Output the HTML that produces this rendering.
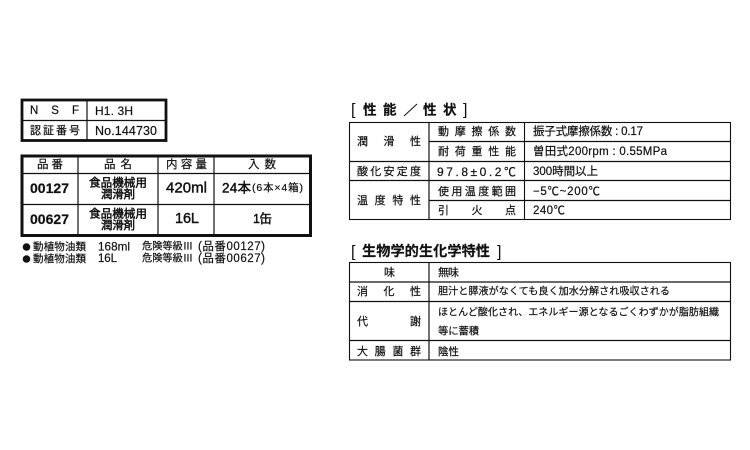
<!DOCTYPE html>
<html lang="ja">
<head>
<meta charset="utf-8">
<style>
html,body{margin:0;padding:0;background:#fff;}
svg{display:block;filter:blur(0.3px);}
text{font-family:"Liberation Sans","Noto Sans CJK JP",sans-serif;fill:#111;stroke:#111;stroke-width:0.2px;dominant-baseline:central;font-size:11px;}
.b{font-weight:bold;}
.c3{font-size:11.5px;}
.n{font-size:10.5px;}
.s{font-size:10.2px;}
.h{stroke-width:0.45px;}
line{stroke:#111;}
rect{fill:none;stroke:#111;}
</style>
</head>
<body>
<svg width="750" height="450" viewBox="0 0 750 450" xmlns="http://www.w3.org/2000/svg">
<!-- NSF table -->
<rect x="22" y="100" width="144" height="40.500" stroke-width="2.800"/>
<line x1="87" y1="100" x2="87" y2="140" stroke-width="1.200"/>
<line x1="22" y1="120.500" x2="166" y2="120.500" stroke-width="1.200"/>
<text x="30" y="111" textLength="49" lengthAdjust="spacing" style="font-size:11.500px">N S F</text>
<text x="95" y="111" textLength="38" lengthAdjust="spacing" style="font-size:12px">H1. 3H</text>
<text x="30" y="131" textLength="50" lengthAdjust="spacing">認証番号</text>
<text x="95" y="131" textLength="62" lengthAdjust="spacing" style="font-size:12.500px">No.144730</text>

<!-- product table -->
<rect x="22" y="156" width="288.500" height="79.500" stroke-width="3"/>
<line x1="22" y1="173.500" x2="310" y2="173.500" stroke-width="1.200"/>
<line x1="22" y1="204.500" x2="310" y2="204.500" stroke-width="1.200"/>
<line x1="78" y1="156" x2="78" y2="235" stroke-width="1.200"/>
<line x1="158" y1="156" x2="158" y2="235" stroke-width="1.200"/>
<line x1="214" y1="156" x2="214" y2="235" stroke-width="1.200"/>
<text x="37" y="165" textLength="26" lengthAdjust="spacing" style="font-size:11.500px">品番</text>
<text x="104" y="165" textLength="28" lengthAdjust="spacing" style="font-size:11.500px">品名</text>
<text x="166" y="165" textLength="41" lengthAdjust="spacing" style="font-size:11.500px">内容量</text>
<text x="248" y="165" textLength="28" lengthAdjust="spacing" style="font-size:11.500px">入数</text>
<text class="b" x="30" y="188" textLength="39" lengthAdjust="spacing" style="font-size:14px">00127</text>
<text class="h" x="89" y="183" textLength="58" lengthAdjust="spacing" style="font-size:11.600px">食品機械用</text>
<text class="h" x="101" y="195" textLength="34" lengthAdjust="spacing" style="font-size:11.500px">潤滑剤</text>
<text class="h" x="166" y="188" textLength="41" lengthAdjust="spacing" style="font-size:15px">420ml</text>
<text class="h" x="222" y="188" textLength="29" lengthAdjust="spacing" style="font-size:13.500px">24本</text>
<text x="252" y="188" textLength="51" lengthAdjust="spacing" style="font-size:10.500px">(6本×4箱)</text>
<text class="b" x="30" y="219" textLength="39" lengthAdjust="spacing" style="font-size:14px">00627</text>
<text class="h" x="89" y="214" textLength="58" lengthAdjust="spacing" style="font-size:11.600px">食品機械用</text>
<text class="h" x="101" y="226" textLength="34" lengthAdjust="spacing" style="font-size:11.500px">潤滑剤</text>
<text class="h" x="175" y="219" textLength="24" lengthAdjust="spacing" style="font-size:14.500px">16L</text>
<text class="h" x="253" y="219" textLength="19" lengthAdjust="spacing" style="font-size:12.500px">1缶</text>

<!-- notes -->
<circle cx="26.500" cy="247" r="3.800" fill="#111"/>
<text class="n" x="33" y="247" textLength="53" lengthAdjust="spacing">動植物油類</text>
<text x="98" y="247" textLength="32" lengthAdjust="spacing" style="font-size:11.700px">168ml</text>
<text class="s" x="142" y="247" textLength="51" lengthAdjust="spacing">危険等級Ⅲ</text>
<text x="198" y="247" textLength="67" lengthAdjust="spacing" style="font-size:11.500px">(品番00127)</text>
<circle cx="26.500" cy="259" r="3.800" fill="#111"/>
<text class="n" x="33" y="259" textLength="53" lengthAdjust="spacing">動植物油類</text>
<text x="98" y="259" textLength="19" lengthAdjust="spacing" style="font-size:11.500px">16L</text>
<text class="s" x="142" y="259" textLength="51" lengthAdjust="spacing">危険等級Ⅲ</text>
<text x="198" y="259" textLength="67" lengthAdjust="spacing" style="font-size:11.500px">(品番00627)</text>

<!-- performance -->
<text x="351" y="110" style="font-size:16px;stroke-width:0">[</text>
<text class="b" x="363" y="110" style="font-size:13.500px">性</text>
<text class="b" x="383" y="110" style="font-size:13.500px">能</text>
<line x1="404" y1="116" x2="417" y2="104" stroke-width="1"/>
<text class="b" x="423" y="110" style="font-size:13.500px">性</text>
<text class="b" x="443" y="110" style="font-size:13.500px">状</text>
<text x="463" y="110" style="font-size:16px;stroke-width:0">]</text>

<rect x="349.500" y="122.500" width="381" height="97" stroke-width="1.100"/>
<line x1="349" y1="161.500" x2="731" y2="161.500" stroke-width="1.200"/>
<line x1="349" y1="180.500" x2="731" y2="180.500" stroke-width="1.200"/>
<line x1="429" y1="141.500" x2="731" y2="141.500" stroke-width="1.200"/>
<line x1="429" y1="200.500" x2="731" y2="200.500" stroke-width="1.200"/>
<line x1="429" y1="122" x2="429" y2="220" stroke-width="1.200"/>
<line x1="524.500" y1="122" x2="524.500" y2="220" stroke-width="1.100"/>

<text x="357" y="142" textLength="64" lengthAdjust="spacing">潤滑性</text>
<text x="357" y="172" textLength="64" lengthAdjust="spacing">酸化安定度</text>
<text x="357" y="201" textLength="64" lengthAdjust="spacing">温度特性</text>
<text x="438" y="132" textLength="78" lengthAdjust="spacing">動摩擦係数</text>
<text x="438" y="152" textLength="78" lengthAdjust="spacing">耐荷重性能</text>
<text x="437" y="172" textLength="79" lengthAdjust="spacing" style="font-size:12px">97.8±0.2℃</text>
<text x="438" y="192" textLength="78" lengthAdjust="spacing">使用温度範囲</text>
<text x="438" y="211" textLength="78" lengthAdjust="spacing">引火点</text>
<text class="c3" x="533" y="132" textLength="110" lengthAdjust="spacing">振子式摩擦係数 : 0.17</text>
<text class="c3" x="533" y="152" textLength="134" lengthAdjust="spacing">曽田式200rpm : 0.55MPa</text>
<text class="c3" x="533" y="172" textLength="65" lengthAdjust="spacing">300時間以上</text>
<text class="c3" x="533" y="192" textLength="67" lengthAdjust="spacing">−5℃~200℃</text>
<text class="c3" x="533" y="211" textLength="32" lengthAdjust="spacing">240℃</text>

<!-- biochemical -->
<text x="351" y="252" style="font-size:16px;stroke-width:0">[</text>
<text class="b" x="362" y="252" textLength="128" lengthAdjust="spacing" style="font-size:14.200px">生物学的生化学特性</text>
<text x="497" y="252" style="font-size:16px;stroke-width:0">]</text>

<rect x="349.500" y="262.500" width="381" height="97.500" stroke-width="1.100"/>
<line x1="349" y1="282" x2="731" y2="282" stroke-width="1.200"/>
<line x1="349" y1="301.500" x2="731" y2="301.500" stroke-width="1.200"/>
<line x1="349" y1="340.500" x2="731" y2="340.500" stroke-width="1.200"/>
<line x1="429" y1="262" x2="429" y2="360" stroke-width="1.200"/>

<text x="384" y="273">味</text>
<text x="438" y="273" textLength="21" lengthAdjust="spacing">無味</text>
<text x="357" y="292" textLength="64" lengthAdjust="spacing">消化性</text>
<text x="438" y="292" textLength="232" lengthAdjust="spacing" style="font-size:10.100px">胆汁と膵液がなくても良く加水分解され吸収される</text>
<text x="357" y="322" textLength="64" lengthAdjust="spacing">代謝</text>
<text x="438" y="313" textLength="281" lengthAdjust="spacing" style="font-size:10px">ほとんど酸化され、エネルギー源となるごくわずかが脂肪組織</text>
<text x="438" y="332" textLength="41" lengthAdjust="spacing" style="font-size:10.300px">等に蓄積</text>
<text x="357" y="352" textLength="64" lengthAdjust="spacing">大腸菌群</text>
<text x="438" y="352" textLength="21" lengthAdjust="spacing" style="font-size:10.500px">陰性</text>
</svg>
</body>
</html>
